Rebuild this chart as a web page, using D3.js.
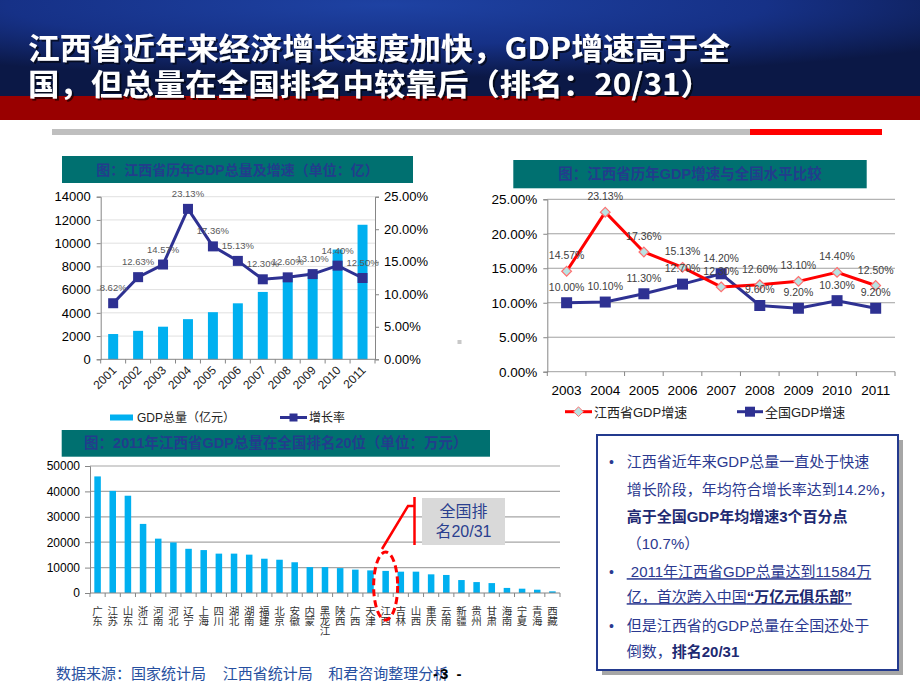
<!DOCTYPE html>
<html><head><meta charset="utf-8">
<script src="https://cdn.jsdelivr.net/npm/d3@7"></script>
<style>
html,body{margin:0;padding:0;background:#fff;}
svg{display:block;}
text{font-family:"Liberation Sans","Noto Sans CJK SC",sans-serif;}
</style></head>
<body>
<svg id="c" width="920" height="690"></svg>
<script>
// ---------- DATA ----------
const years1 = ["2001","2002","2003","2004","2005","2006","2007","2008","2009","2010","2011"];
const gdpTotal = [2176, 2450, 2807, 3457, 4057, 4821, 5800, 6971, 7500, 9451, 11584];
const gdpGrowth = [8.62, 12.63, 14.57, 23.13, 17.36, 15.13, 12.30, 12.60, 13.10, 14.40, 12.50];
const ticks1L = [0, 2000, 4000, 6000, 8000, 10000, 12000, 14000];
const ticks1R = [0, 5, 10, 15, 20, 25];

const years2 = ["2003","2004","2005","2006","2007","2008","2009","2010","2011"];
const jxGrowth = [14.57, 23.13, 17.36, 15.13, 12.30, 12.60, 13.10, 14.40, 12.50];
const cnGrowth = [10.00, 10.10, 11.30, 12.70, 14.20, 9.60, 9.20, 10.30, 9.20];
const ticks2 = [0, 5, 10, 15, 20, 25];

const provinces = ["广东","江苏","山东","浙江","河南","河北","辽宁","上海","四川","湖北","湖南","福建","北京","安徽","内蒙","黑龙江","陕西","广西","天津","江西","吉林","山西","重庆","云南","新疆","贵州","甘肃","海南","宁夏","青海","西藏"];
const provGdp = [45900, 40200, 38300, 27200, 21400, 19900, 17400, 16900, 15500, 15500, 15100, 13500, 13100, 12100, 10200, 10200, 9800, 9200, 8900, 8700, 8400, 8400, 7350, 7100, 5100, 4300, 3900, 2000, 1700, 1300, 650];
const ticks3 = [0, 10000, 20000, 30000, 40000, 50000];

const titleLines = ["江西省近年来经济增长速度加快，GDP增速高于全", "国，但总量在全国排名中较靠后（排名：20/31）"];
const chartTitles = ["图：江西省历年GDP总量及增速（单位：亿）", "图：江西省历年GDP增速与全国水平比较", "图：2011年江西省GDP总量在全国排名20位（单位：万元）"];
const legend1 = ["GDP总量（亿元）", "增长率"];
const legend2 = ["江西省GDP增速", "全国GDP增速"];
const boxLines = [
  {b:true, parts:[["江西省近年来GDP总量一直处于快速",0]]},
  {b:false, parts:[["增长阶段，年均符合增长率达到14.2%，",0]]},
  {b:false, parts:[["高于全国GDP年均增速3个百分点",1]]},
  {b:false, parts:[["（10.7%）",0]]},
  {b:true, u:true, parts:[[" 2011年江西省GDP总量达到11584万",0]]},
  {b:false, u:true, parts:[["亿，首次跨入中国",0],["“万亿元俱乐部”",1]]},
  {b:true, parts:[["但是江西省的GDP总量在全国还处于",0]]},
  {b:false, parts:[["倒数，",0],["排名20/31",1]]}
];
const footer = ["数据来源：国家统计局", "江西省统计局", "和君咨询整理分析"];
const rankLabel = ["全国排", "名20/31"];

// ---------- COLORS ----------
const barColor = "#00b0f0", navy = "#2e3192", red = "#ff0000", teal = "#007070", titleBlue = "#223d8c";
const svg = d3.select("#c");
const defs = svg.append("defs");
const rg = defs.append("radialGradient").attr("id","hdr").attr("cx","42%").attr("cy","5%").attr("r","75%");
rg.append("stop").attr("offset","0").attr("stop-color","#1e42a3");
rg.append("stop").attr("offset","0.55").attr("stop-color","#163187");
rg.append("stop").attr("offset","1").attr("stop-color","#0b1846");
const sh = defs.append("filter").attr("id","tsh").attr("x","-5%").attr("y","-20%").attr("width","110%").attr("height","150%");
sh.append("feDropShadow").attr("dx",2).attr("dy",2).attr("stdDeviation",0.6).attr("flood-color","#000").attr("flood-opacity",0.6);

// ---------- HEADER ----------
svg.append("rect").attr("x",0).attr("y",0).attr("width",920).attr("height",97).attr("fill","url(#hdr)");
svg.append("rect").attr("x",0).attr("y",96).attr("width",920).attr("height",24).attr("fill","#990000");
svg.append("rect").attr("x",52).attr("y",129).attr("width",698).attr("height",6).attr("fill","#bfbfbf");
svg.append("rect").attr("x",750).attr("y",129).attr("width",132).attr("height",6).attr("fill","#ff0000");
const tw = [702, 684], tb = [59, 95];
titleLines.forEach((t,i)=>{
  svg.append("text").attr("x",28).attr("y",tb[i]).text(t)
    .style("font-family","'Noto Sans CJK SC'").attr("font-weight","bold").attr("font-size",30)
    .attr("fill","#fff").attr("filter","url(#tsh)")
    .attr("textLength",tw[i]).attr("lengthAdjust","spacingAndGlyphs");
});

function titleBar(x0,y0,x1,y1,txt,fs){
  svg.append("rect").attr("x",x0).attr("y",y0).attr("width",x1-x0).attr("height",y1-y0).attr("fill",teal);
  svg.append("text").attr("x",(x0+x1)/2).attr("y",(y0+y1)/2+5).attr("text-anchor","middle")
    .attr("font-size",fs).attr("font-weight","bold").attr("fill",titleBlue).text(txt);
}

// ---------- CHART 1 ----------
titleBar(62,156,413,183,chartTitles[0],14);
const x1 = d3.scaleBand().domain(years1).range([100.7,375]).paddingInner(0.6).paddingOuter(0.3);
const y1L = d3.scaleLinear().domain([0,14000]).range([359.3,196.7]);
const y1R = d3.scaleLinear().domain([0,25]).range([359.3,196.7]);
const c1 = svg.append("g");
c1.selectAll(".g1").data(ticks1L.slice(1)).join("line")
  .attr("x1",100.7).attr("x2",375).attr("y1",d=>y1L(d)).attr("y2",d=>y1L(d))
  .attr("stroke","#e0e0e0").attr("stroke-width",1);
c1.selectAll(".bar1").data(years1).join("rect")
  .attr("x",d=>x1(d)).attr("width",x1.bandwidth())
  .attr("y",(d,i)=>y1L(gdpTotal[i])).attr("height",(d,i)=>y1L(0)-y1L(gdpTotal[i]))
  .attr("fill",barColor);
const axL1 = c1.append("g").attr("transform","translate(100.7,0)")
  .call(d3.axisLeft(y1L).tickValues(ticks1L).tickSize(4).tickPadding(6).tickFormat(d3.format("d")));
const axR1 = c1.append("g").attr("transform","translate(375,0)")
  .call(d3.axisRight(y1R).tickValues(ticks1R).tickSize(4).tickPadding(5).tickFormat(d=>d.toFixed(2)+"%"));
[axL1,axR1].forEach(a=>{
  a.selectAll("path,line").attr("stroke","#868686");
  a.selectAll("text").attr("font-size",13).attr("fill","#000").style("font-family","'Liberation Sans'");
});
c1.append("line").attr("x1",100.7).attr("x2",375).attr("y1",359.3).attr("y2",359.3).attr("stroke","#868686");
const bnd1 = years1.map(d=>x1(d)+x1.bandwidth()/2-x1.step()/2).concat([375]);
c1.selectAll(".tk1").data(bnd1).join("line").attr("x1",d=>d).attr("x2",d=>d)
  .attr("y1",359.3).attr("y2",363.5).attr("stroke","#868686");
c1.selectAll(".xl1").data(years1).join("text")
  .attr("transform",d=>`translate(${x1(d)+x1.bandwidth()/2+4},${371}) rotate(-45)`)
  .attr("text-anchor","end").attr("font-size",12).attr("fill","#222").text(d=>d);
const line1 = d3.line().x((d,i)=>x1(years1[i])+x1.bandwidth()/2).y(d=>y1R(d));
c1.append("path").datum(gdpGrowth).attr("d",line1).attr("fill","none").attr("stroke",navy).attr("stroke-width",3);
c1.selectAll(".m1").data(gdpGrowth).join("rect")
  .attr("x",(d,i)=>x1(years1[i])+x1.bandwidth()/2-5).attr("y",d=>y1R(d)-5)
  .attr("width",10).attr("height",10).attr("fill",navy);
c1.selectAll(".lb1").data(gdpGrowth).join("text")
  .attr("x",(d,i)=>x1(years1[i])+x1.bandwidth()/2).attr("y",d=>y1R(d)-12)
  .attr("text-anchor","middle").attr("font-size",9.5).attr("fill","#595959").text(d=>d.toFixed(2)+"%");
// legend 1
c1.append("rect").attr("x",110).attr("y",414.5).attr("width",23).attr("height",6).attr("fill",barColor);
c1.append("text").attr("x",137).attr("y",421.5).attr("font-size",12).attr("fill","#222").text(legend1[0]);
c1.append("line").attr("x1",280).attr("x2",307).attr("y1",417.5).attr("y2",417.5).attr("stroke",navy).attr("stroke-width",3);
c1.append("rect").attr("x",289.5).attr("y",413.5).attr("width",8).attr("height",8).attr("fill",navy);
c1.append("text").attr("x",309).attr("y",421.5).attr("font-size",12).attr("fill","#222").text(legend1[1]);

// ---------- CHART 2 ----------
titleBar(513.3,160,866.7,188.3,chartTitles[1],14.5);
const x2 = d3.scaleBand().domain(years2).range([547.3,895]);
const y2 = d3.scaleLinear().domain([0,25]).range([371.7,199.3]);
const c2 = svg.append("g");
c2.selectAll(".g2").data(ticks2).join("line")
  .attr("x1",547.3).attr("x2",895).attr("y1",d=>y2(d)).attr("y2",d=>y2(d))
  .attr("stroke","#a0a0a0").attr("stroke-width",1);
const ax2 = c2.append("g").attr("transform","translate(547.3,0)")
  .call(d3.axisLeft(y2).tickValues(ticks2).tickSize(4).tickPadding(6).tickFormat(d=>d.toFixed(2)+"%"));
ax2.selectAll("path,line").attr("stroke","#868686");
ax2.selectAll("text").attr("font-size",13.5).attr("fill","#000");
const bnd2 = years2.map(d=>x2(d)).concat([895]);
c2.selectAll(".tk2").data(bnd2).join("line").attr("x1",d=>d).attr("x2",d=>d)
  .attr("y1",371.7).attr("y2",376).attr("stroke","#868686");
c2.selectAll(".xl2").data(years2).join("text")
  .attr("x",d=>x2(d)+x2.bandwidth()/2).attr("y",395).attr("text-anchor","middle")
  .attr("font-size",13.5).attr("fill","#000").text(d=>d);
const cx2 = (d,i)=>x2(years2[i])+x2.bandwidth()/2;
const line2 = d3.line().x(cx2).y(d=>y2(d));
c2.append("path").datum(cnGrowth).attr("d",line2).attr("fill","none").attr("stroke",navy).attr("stroke-width",3);
c2.append("path").datum(jxGrowth).attr("d",line2).attr("fill","none").attr("stroke",red).attr("stroke-width",3);
c2.selectAll(".m2b").data(cnGrowth).join("rect")
  .attr("x",(d,i)=>cx2(d,i)-5.5).attr("y",d=>y2(d)-5.5).attr("width",11).attr("height",11).attr("fill",navy);
const diamond = d3.symbol().type(d3.symbolDiamond2).size(60);
c2.selectAll(".m2r").data(jxGrowth).join("path")
  .attr("transform",(d,i)=>`translate(${cx2(d,i)},${y2(d)})`).attr("d",diamond)
  .attr("fill","#b9e3e3").attr("stroke","#ff7070").attr("stroke-width",1.2);
c2.selectAll(".lbr").data(jxGrowth).join("text")
  .attr("x",cx2).attr("y",d=>y2(d)-12).attr("text-anchor","middle")
  .attr("font-size",10.5).attr("fill","#404040").text(d=>d.toFixed(2)+"%");
c2.selectAll(".lbb").data(cnGrowth).join("text")
  .attr("x",cx2).attr("y",d=>y2(d)-12).attr("text-anchor","middle")
  .attr("font-size",10.5).attr("fill","#404040").text(d=>d.toFixed(2)+"%");
// legend 2
c2.append("line").attr("x1",565).attr("x2",592).attr("y1",411.7).attr("y2",411.7).attr("stroke",red).attr("stroke-width",3);
c2.append("path").attr("transform","translate(578.5,411.7)").attr("d",diamond).attr("fill","#b9e3e3").attr("stroke","#ff7070");
c2.append("text").attr("x",594).attr("y",416.5).attr("font-size",13).attr("fill","#222").text(legend2[0]);
c2.append("line").attr("x1",737).attr("x2",763).attr("y1",411.7).attr("y2",411.7).attr("stroke",navy).attr("stroke-width",3);
c2.append("rect").attr("x",745).attr("y",406.7).attr("width",10).attr("height",10).attr("fill",navy);
c2.append("text").attr("x",765).attr("y",416.5).attr("font-size",13).attr("fill","#222").text(legend2[1]);

// small mark
svg.append("rect").attr("x",457.5).attr("y",340).attr("width",4).attr("height",4).attr("fill","#c8c8c8");

// ---------- CHART 3 ----------
titleBar(61.7,430,490,456.7,chartTitles[2],14.5);
const x3 = d3.scaleBand().domain(provinces).range([90,560]).paddingInner(0.57).paddingOuter(0.285);
const y3 = d3.scaleLinear().domain([0,50000]).range([593,466]);
const c3 = svg.append("g");
c3.selectAll(".g3").data(ticks3.slice(1)).join("line")
  .attr("x1",90).attr("x2",560).attr("y1",d=>y3(d)).attr("y2",d=>y3(d))
  .attr("stroke","#a6a6a6").attr("stroke-width",1.2);
c3.selectAll(".bar3").data(provinces).join("rect")
  .attr("x",d=>x3(d)).attr("width",x3.bandwidth())
  .attr("y",(d,i)=>y3(provGdp[i])).attr("height",(d,i)=>y3(0)-y3(provGdp[i]))
  .attr("fill",barColor);
const ax3 = c3.append("g").attr("transform","translate(90,0)")
  .call(d3.axisLeft(y3).tickValues(ticks3).tickSize(5).tickPadding(5).tickFormat(d3.format("d")));
ax3.selectAll("path,line").attr("stroke","#868686");
ax3.selectAll("text").attr("font-size",12).attr("fill","#000");
c3.append("line").attr("x1",90).attr("x2",560).attr("y1",593).attr("y2",593).attr("stroke","#868686").attr("stroke-width",1.2);
const bnd3 = provinces.map(d=>x3(d)+x3.bandwidth()/2-x3.step()/2).concat([560]);
c3.selectAll(".tk3").data(bnd3).join("line").attr("x1",d=>d).attr("x2",d=>d)
  .attr("y1",593).attr("y2",597).attr("stroke","#868686");
const xl3 = c3.selectAll(".xl3").data(provinces).join("text")
  .attr("text-anchor","middle").attr("font-size",10.5).attr("fill","#333");
xl3.each(function(d){
  const t = d3.select(this), cx = x3(d)+x3.bandwidth()/2;
  Array.from(d).forEach((ch,k)=>{
    t.append("tspan").attr("x",cx).attr("y",614.5+k*10.3).text(ch);
  });
});
// highlight
svg.append("ellipse").attr("cx",x3("江西")+x3.bandwidth()/2).attr("cy",586).attr("rx",12).attr("ry",34)
  .attr("fill","none").attr("stroke",red).attr("stroke-width",3).attr("stroke-dasharray","7,4");
svg.append("polyline").attr("points","382,549 408,506 414,506").attr("fill","none").attr("stroke",red).attr("stroke-width",2.5);
svg.append("line").attr("x1",414.5).attr("x2",414.5).attr("y1",497).attr("y2",545).attr("stroke",red).attr("stroke-width",2.5);
svg.append("rect").attr("x",422).attr("y",498).attr("width",83).attr("height",47).attr("fill","#d9d9d9");
rankLabel.forEach((t,i)=>{
  svg.append("text").attr("x",463.5).attr("y",517+i*20).attr("text-anchor","middle")
    .attr("font-size",16).attr("fill","#2a3f8f").text(t);
});

// ---------- TEXT BOX ----------
svg.append("rect").attr("x",602).attr("y",440).attr("width",301).attr("height",235).attr("fill","#a6a6a6");
svg.append("rect").attr("x",597).attr("y",435).attr("width",301).attr("height",235).attr("fill","#fff")
  .attr("stroke","#233a8e").attr("stroke-width",2);
const lineY = [461.7, 489.3, 516, 543.3, 571.7, 596.7, 625, 651.7];
boxLines.forEach((ln,i)=>{
  const y = lineY[i]+5.5;
  if(ln.b){
    svg.append("text").attr("x",609).attr("y",y).attr("font-size",14).attr("fill","#2b3990").text("•");
  }
  const t = svg.append("text").attr("x",626.7).attr("y",y).attr("font-size",15).attr("fill","#2b3990")
    .style("white-space","pre");
  if(ln.u) t.attr("text-decoration","underline");
  ln.parts.forEach(p=>{
    t.append("tspan").attr("font-weight",p[1]?"bold":"normal").attr("fill",p[1]?"#1e2a72":"#2b3990").text(p[0]);
  });
});

// ---------- FOOTER ----------
const fx = [56, 222.7, 328.3];
footer.forEach((t,i)=>{
  svg.append("text").attr("x",fx[i]).attr("y",679).attr("font-size",15).attr("fill","#2750a0").text(t);
});
svg.append("text").attr("x",433).attr("y",679).attr("font-size",15).attr("font-weight","bold")
  .attr("fill","#000").attr("letter-spacing",2).text("-3 -");
</script>
</body></html>
